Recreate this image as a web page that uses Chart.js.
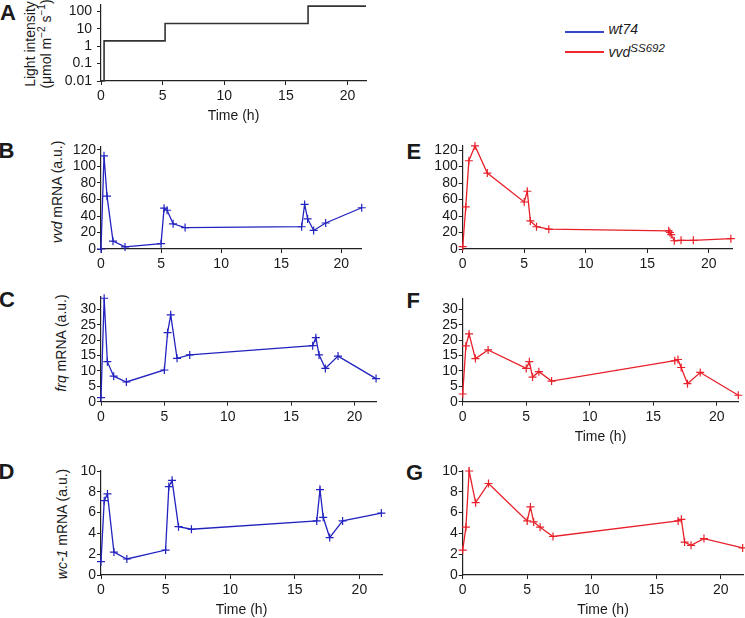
<!DOCTYPE html>
<html>
<head>
<meta charset="utf-8">
<script src="https://cdn.jsdelivr.net/npm/chart.js@4.4.1/dist/chart.umd.min.js"></script>
<style>
body { margin: 0; background: #fff; }
#fig { position: relative; width: 745px; height: 618px; overflow: hidden; font-family: "Liberation Sans", Arial, sans-serif; color: #1a1a1a; }
#fig canvas { position: absolute; }
.letter { position: absolute; font-weight: bold; font-size: 22px; line-height: 1; }
.ytitle { position: absolute; font-size: 14px; line-height: 15.5px; white-space: nowrap; text-align: center; transform: translate(-50%, -50%) rotate(-90deg); }
.ytitle sup { font-size: 10px; line-height: 0; }
.leg-line { position: absolute; left: 565px; width: 39px; height: 1.5px; }
.leg-text { position: absolute; left: 608.5px; font-size: 14px; line-height: 1; font-style: italic; white-space: nowrap; }
</style>
</head>
<body>
<div id="fig">
  <div class="letter" style="left:0px;top:1.7px">A</div>
  <div class="letter" style="left:-1.5px;top:139.7px">B</div>
  <div class="letter" style="left:-1px;top:289.2px">C</div>
  <div class="letter" style="left:-1.5px;top:461.4px">D</div>
  <div class="letter" style="left:406.5px;top:141.4px">E</div>
  <div class="letter" style="left:406.5px;top:289.7px">F</div>
  <div class="letter" style="left:406px;top:462.4px">G</div>

  <div class="ytitle" style="left:37.8px;top:44px">Light intensity<br>(μmol m<sup>−2</sup> s<sup>−1</sup>)</div>
  <div class="ytitle" style="left:57.5px;top:191.7px"><i>vvd</i> mRNA (a.u.)</div>
  <div class="ytitle" style="left:61.5px;top:342.5px"><i>frq</i> mRNA (a.u.)</div>
  <div class="ytitle" style="left:63.3px;top:524px"><i>wc-1</i> mRNA (a.u.)</div>

  <div class="leg-line" style="top:31px;background:#3548c8"></div>
  <div class="leg-line" style="top:51px;background:#ec2a2e"></div>
  <div class="leg-text" style="top:21.5px">wt74</div>
  <div class="leg-text" style="top:44.9px">vvd<span style="font-size:11.5px;position:relative;top:-4.5px">SS692</span></div>
</div>
<script>
// light regime (panel A)
const lightHours = [0, 0.25, 5.2, 16.8, 21.5];
const lightLevel = [0.01, 2, 20, 200, 200];
const lightTicks = [0.01, 0.1, 1, 10, 100];

// sampling times (h)
const hours = [0, 0.25, 0.5, 1, 2, 5, 5.25, 5.5, 6, 7, 16.7, 16.95, 17.2, 17.7, 18.7, 21.7];
const hoursE = [0, 0.25, 0.5, 1, 2, 5, 5.25, 5.5, 6, 7, 16.75, 16.85, 16.95, 17.2, 17.75, 18.75, 21.8];

// wt74
const vvdWt = [0, 113, 64, 9.5, 2.5, 6.5, 49.5, 47, 30.5, 26, 27, 54, 36.5, 22.5, 31.5, 50];
const frqWt = [1.3, 33.6, 13, 8.3, 6.4, 10.3, 22.4, 28.2, 14.1, 15.2, 18.2, 20.8, 15.2, 10.8, 14.8, 7.5];
const wc1Wt = [1.28, 7.15, 7.8, 2.2, 1.54, 2.4, 8.5, 9.1, 4.65, 4.4, 5.2, 8.2, 5.55, 3.6, 5.2, 5.95];

// vvd SS692
const vvdMut = [2.8, 51, 107, 125, 92, 57, 70, 34, 27, 24, 22, 20, 17.5, 10, 10.5, 10.5, 12.5];
const frqMut = [2.5, 18.1, 22, 14, 16.8, 10.8, 13, 8, 9.75, 6.7, 13.3, 13.7, 11.1, 5.85, 9.5, 2.1];
const wc1Mut = [2.4, 4.6, 10.0, 6.95, 8.8, 5.2, 6.55, 5.1, 4.6, 3.7, 5.2, 5.35, 3.17, 2.85, 3.5, 2.6];

const BLUE = '#2323c0';
const RED = '#e8202a';
const INK = '#1a1a1a';
const AXIS = '#222';

Chart.defaults.font.family = '"Liberation Sans", Arial, sans-serif';
Chart.defaults.font.size = 14;
Chart.defaults.color = INK;

const fig = document.getElementById('fig');

function pts(xs, ys) {
    return xs.map((x, i) => ({x: x, y: ys[i]}));
}

// place a canvas so that the plot area lands on rect {l,t,r,b}
function panel(rect, yScale, xMax, title, datasets) {
    const lw0 = 50, padTop0 = 12, padRight0 = 8;
    const titleOff = title ? 35 : 20;
    const xh = titleOff + 8.4;
    const left = Math.floor(rect.l - lw0);
    const top = Math.floor(rect.t - padTop0);
    const lw = rect.l - left;
    const padTop = rect.t - top;
    const w = Math.ceil(lw + (rect.r - rect.l) + padRight0);
    const h = Math.ceil(padTop + (rect.b - rect.t) + xh);
    const padRight = w - lw - (rect.r - rect.l);
    const padBottom = h - padTop - (rect.b - rect.t) - xh;

    const canvas = document.createElement('canvas');
    canvas.width = w;
    canvas.height = h;
    canvas.style.left = left + 'px';
    canvas.style.top = top + 'px';
    fig.appendChild(canvas);

    yScale.afterFit = (s) => { s.width = lw; };
    yScale.grid = {drawOnChartArea: false, drawTicks: true, tickLength: 4, color: AXIS};
    yScale.border = {display: true, color: AXIS, width: 1.2};
    yScale.ticks = Object.assign({padding: 1, autoSkip: false, color: INK, font: {size: 14}}, yScale.ticks || {});

    new Chart(canvas, {
        type: 'line',
        data: {datasets: datasets},
        options: {
            responsive: false,
            animation: false,
            devicePixelRatio: 1,
            events: [],
            layout: {padding: {top: padTop, right: padRight, bottom: padBottom, left: 0}},
            plugins: {legend: {display: false}, tooltip: {enabled: false}},
            scales: {
                x: {
                    type: 'linear',
                    min: 0,
                    max: xMax,
                    ticks: {stepSize: 5, includeBounds: false, autoSkip: false, padding: 3, maxRotation: 0, color: INK, font: {size: 14}},
                    grid: {drawOnChartArea: false, drawTicks: true, tickLength: 4, color: AXIS},
                    border: {display: true, color: AXIS, width: 1.2},
                    title: {display: !!title, text: title || '', color: INK, font: {size: 14}, padding: 0},
                    afterFit: (s) => { s.height = xh; }
                },
                y: yScale
            }
        }
    });
}

function series(xs, ys, color) {
    return {
        data: pts(xs, ys),
        borderColor: color,
        backgroundColor: color,
        borderWidth: 1.3,
        pointStyle: 'cross',
        pointRadius: 4,
        pointBorderWidth: 1.2,
        pointBorderColor: color,
        tension: 0,
        clip: false
    };
}

function linY(max, step) {
    return {type: 'linear', min: 0, max: max, ticks: {stepSize: step, includeBounds: false}};
}

// A: light intensity (log)
panel({l: 101, r: 366, t: 3, b: 81}, {
    type: 'logarithmic',
    min: 0.01,
    max: 250,
    afterBuildTicks: (s) => { s.ticks = lightTicks.map((v) => ({value: v})); },
    ticks: {padding: 5, callback: (v) => String(v)}
}, 21.5, 'Time (h)', [{
    data: pts(lightHours, lightLevel),
    stepped: 'before',
    borderColor: '#333',
    borderWidth: 1.6,
    pointRadius: 0,
    clip: false
}]);

// wt74 panels
panel({l: 101, r: 361.7, t: 146.7, b: 249}, linY(124, 20), 21.7, null, [series(hours, vvdWt, BLUE)]);
panel({l: 101, r: 376.7, t: 297, b: 401.7}, linY(34, 5), 21.75, null, [series(hours, frqWt, BLUE)]);
panel({l: 101, r: 382, t: 471, b: 575}, linY(10, 2), 21.75, 'Time (h)', [series(hours, wc1Wt, BLUE)]);

// vvd SS692 panels
panel({l: 462.7, r: 732.7, t: 145.9, b: 249}, linY(125, 20), 21.95, null, [series(hoursE, vvdMut, RED)]);
panel({l: 462.7, r: 738.3, t: 298.5, b: 401.7}, linY(33.5, 5), 21.7, 'Time (h)', [series(hours, frqMut, RED)]);
panel({l: 462.7, r: 743.3, t: 471, b: 575}, linY(10, 2), 21.75, 'Time (h)', [series(hours, wc1Mut, RED)]);
</script>
</body>
</html>
